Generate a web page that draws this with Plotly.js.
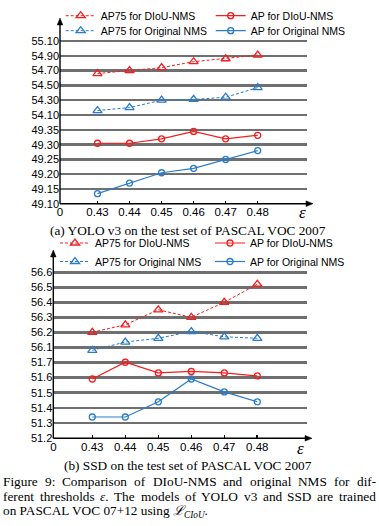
<!DOCTYPE html>
<html><head><meta charset="utf-8">
<script src="https://cdn.plot.ly/plotly-3.0.1.min.js"></script>
<style>html,body{margin:0;padding:0;background:#fff}#chart{width:379px;height:526px}</style>
</head><body><div id="chart"></div>
<script>
// ---------- data ----------
const thresholds = [0.43, 0.44, 0.45, 0.46, 0.47, 0.48];
const xTickLabels = ['0.43', '0.44', '0.45', '0.46', '0.47', '0.48'];
const seriesNames = ['AP75 for DIoU-NMS', 'AP for DIoU-NMS', 'AP75 for Original NMS', 'AP for Original NMS'];

// (a) YOLO v3
const yoloAP75DIoU = [54.66, 54.70, 54.74, 54.82, 54.86, 54.91];
const yoloAP75Orig = [54.16, 54.20, 54.30, 54.31, 54.34, 54.47];
const yoloAPDIoU   = [49.305, 49.305, 49.32, 49.345, 49.32, 49.332];
const yoloAPOrig   = [49.134, 49.17, 49.205, 49.22, 49.25, 49.28];
const yoloAP75Ticks = [54.10, 54.30, 54.50, 54.70, 54.90, 55.10];
const yoloAPTicks   = [49.10, 49.15, 49.20, 49.25, 49.30, 49.35];

// (b) SSD
const ssdAP75DIoU = [56.20, 56.25, 56.35, 56.30, 56.40, 56.52];
const ssdAP75Orig = [56.08, 56.135, 56.16, 56.205, 56.17, 56.16];
const ssdAPDIoU   = [51.59, 51.70, 51.63, 51.64, 51.63, 51.61];
const ssdAPOrig   = [51.34, 51.34, 51.44, 51.59, 51.505, 51.44];
const ssdAP75Ticks = [56.1, 56.2, 56.3, 56.4, 56.5, 56.6];
const ssdAPTicks   = [51.2, 51.3, 51.4, 51.5, 51.6, 51.7];

const captionA = '(a) YOLO v3 on the test set of PASCAL VOC 2007';
const captionB = '(b) SSD on the test set of PASCAL VOC 2007';
const figLine1 = 'Figure 9: Comparison of DIoU-NMS and original NMS for dif-';
const figLine2 = 'ferent thresholds <i>ε</i>. The models of YOLO v3 and SSD are trained';
const figLine3 = 'on PASCAL VOC 07+12 using <i>ℒ</i><sub><i>CIoU</i></sub>.';

// ---------- helpers ----------
const W = 379, H = 526;
const px = v => v / W;
const py = v => 1 - v / H;
const RED = '#f51d1d', BLUE = '#2a7ccb', GRID = '#6f6f6f';
const SANS = 'Liberation Sans, Arial, sans-serif';
const SERIF = 'Liberation Serif, Times New Roman, serif';

function trace(x, y, xa, ya, name, legend, color, isAP75) {
  return {
    x: x, y: y, xaxis: xa, yaxis: ya, name: name, legend: legend,
    type: 'scatter', mode: 'lines+markers', cliponaxis: false,
    line: { color: color, width: isAP75 ? 1 : 1.2, dash: isAP75 ? '3px,2px' : 'solid' },
    marker: { symbol: isAP75 ? 'triangle-up-open' : 'circle-open', size: isAP75 ? 8 : 6,
              color: color, line: { color: color, width: 1.3 } }
  };
}

const data = [
  trace(thresholds, yoloAP75DIoU, 'x', 'y', seriesNames[0], 'legend', RED, true),
  trace(thresholds, yoloAPDIoU, 'x', 'y2', seriesNames[1], 'legend', RED, false),
  trace(thresholds, yoloAP75Orig, 'x', 'y', seriesNames[2], 'legend2', BLUE, true),
  trace(thresholds, yoloAPOrig, 'x', 'y2', seriesNames[3], 'legend2', BLUE, false),
  trace(thresholds, ssdAP75DIoU, 'x2', 'y3', seriesNames[0], 'legend3', RED, true),
  trace(thresholds, ssdAPDIoU, 'x2', 'y4', seriesNames[1], 'legend3', RED, false),
  trace(thresholds, ssdAP75Orig, 'x2', 'y3', seriesNames[2], 'legend4', BLUE, true),
  trace(thresholds, ssdAPOrig, 'x2', 'y4', seriesNames[3], 'legend4', BLUE, false)
];

function xAxis(domain, range, anchor) {
  return {
    domain: domain, range: range, anchor: anchor,
    tickmode: 'array', tickvals: [range[0] + 0.00001].concat(thresholds), ticktext: ['0'].concat(xTickLabels),
    ticks: 'inside', ticklen: 3, tickwidth: 1.6, tickcolor: '#000',
    showgrid: false, zeroline: false, showline: false, fixedrange: true,
    tickfont: { family: SANS, size: 11.5, color: '#000' }
  };
}
function yAxis(domain, range, anchor, ticks, fmt) {
  return {
    domain: domain, range: range, anchor: anchor,
    tickmode: 'array', tickvals: ticks, tickformat: fmt,
    ticks: '', showgrid: true, gridcolor: GRID, gridwidth: 2.5,
    zeroline: false, showline: false, fixedrange: true,
    tickfont: { family: SANS, size: 11, color: '#000' }
  };
}
function legendAt(xPix, yPix, ew) {
  return {
    orientation: 'h', x: px(xPix), xanchor: 'left', y: py(yPix), yanchor: 'middle',
    entrywidth: ew, entrywidthmode: 'pixels', bgcolor: 'rgba(0,0,0,0)', borderwidth: 0,
    font: { family: SANS, size: 10.5, color: '#000' }, itemclick: false, itemdoubleclick: false,
    traceorder: 'normal'
  };
}

// axis lines with arrowheads (shapes)
const shapes = [];
function vArrow(x, yBottom, yTip) {
  shapes.push({ type: 'line', xref: 'paper', yref: 'paper', x0: px(x), x1: px(x), y0: py(yBottom), y1: py(yTip + 5),
    line: { color: '#000', width: 1.4 } });
  shapes.push({ type: 'path', xref: 'paper', yref: 'paper',
    path: `M ${px(x - 2.8)} ${py(yTip + 7)} L ${px(x)} ${py(yTip)} L ${px(x + 2.8)} ${py(yTip + 7)} Z`,
    fillcolor: '#000', line: { color: '#000', width: 0.5 } });
}
function hArrow(y, xLeft, xTip) {
  shapes.push({ type: 'line', xref: 'paper', yref: 'paper', x0: px(xLeft), x1: px(xTip - 5), y0: py(y), y1: py(y),
    line: { color: '#000', width: 1.4 } });
  shapes.push({ type: 'path', xref: 'paper', yref: 'paper',
    path: `M ${px(xTip - 7)} ${py(y - 2.8)} L ${px(xTip)} ${py(y)} L ${px(xTip - 7)} ${py(y + 2.8)} Z`,
    fillcolor: '#000', line: { color: '#000', width: 0.5 } });
}
vArrow(60, 203.7, 18);
hArrow(203.7, 60, 313);
vArrow(53.3, 438.3, 250);
hArrow(438.3, 53.3, 312);

const annotations = [];
function label(text, xPix, yPix, size, family, anchor) {
  annotations.push({ xref: 'paper', yref: 'paper', x: px(xPix), y: py(yPix), text: text,
    showarrow: false, xanchor: anchor || 'center', yanchor: 'middle', borderpad: 0, borderwidth: 0,
    font: { family: family, size: size, color: '#000' } });
}
// epsilon axis labels
label('<i>ε</i>', 302, 213, 17, SERIF);
label('<i>ε</i>', 300, 448, 17, SERIF);
// sub captions
label(captionA, 187.5, 230, 13.3, SERIF);
label(captionB, 188, 465, 13.3, SERIF);

// justified figure caption
const CAP = 13.3;
const ctx = document.createElement('canvas').getContext('2d');
ctx.font = CAP + 'px "Liberation Serif"';
function justify(line, left, right, yPix) {
  const words = line.split(' ');
  const widths = words.map(w => ctx.measureText(w.replace(/<[^>]+>/g, '')).width);
  const total = widths.reduce((a, b) => a + b, 0);
  const gap = (right - left - total) / (words.length - 1);
  let x = left;
  words.forEach((w, i) => { label(w, x, yPix, CAP, SERIF, 'left'); x += widths[i] + gap; });
}
justify(figLine1, 3, 376, 481);
justify(figLine2, 3, 376, 496);
label(figLine3, 3, 511, CAP, SERIF, 'left');

const layout = {
  width: W, height: H, margin: { l: 0, r: 0, t: 0, b: 0 },
  paper_bgcolor: '#fff', plot_bgcolor: 'rgba(0,0,0,0)', showlegend: true,
  xaxis: xAxis([px(60), px(307)], [0.4183, 0.49539], 'y2'),
  yaxis: yAxis([py(122.6), py(25)], [53.997, 55.316], 'x', yoloAP75Ticks, '.2f'),
  yaxis2: yAxis([py(203.7), py(122.6)], [49.10, 49.375], 'x', yoloAPTicks, '.2f'),
  xaxis2: xAxis([px(53.3), px(306.7)], [0.41818, 0.49497], 'y4'),
  yaxis3: yAxis([py(354.8), py(258)], [56.05, 56.695], 'x2', ssdAP75Ticks, '.1f'),
  yaxis4: yAxis([py(438.3), py(354.8)], [51.2, 51.749], 'x2', ssdAPTicks, '.1f'),
  legend: legendAt(60.7, 15.7, 105),
  legend2: legendAt(60.7, 30.7, 105),
  legend3: legendAt(55, 243, 110),
  legend4: legendAt(55, 261.5, 110),
  shapes: shapes,
  annotations: annotations
};

Plotly.newPlot('chart', data, layout, { displayModeBar: false, staticPlot: true });
</script>
</body></html>
